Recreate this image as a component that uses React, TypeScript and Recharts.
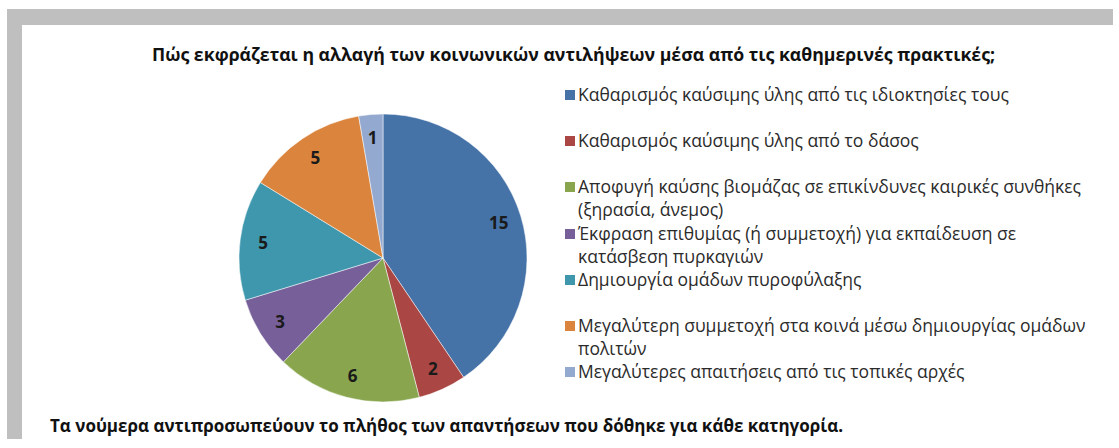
import { PieChart, Pie, Cell, Legend } from 'recharts'

const categories = [
  'Καθαρισμός καύσιμης ύλης από τις ιδιοκτησίες τους',
  'Καθαρισμός καύσιμης ύλης από το δάσος',
  'Αποφυγή καύσης βιομάζας σε επικίνδυνες καιρικές συνθήκες (ξηρασία, άνεμος)',
  'Έκφραση επιθυμίας (ή συμμετοχή) για εκπαίδευση σε κατάσβεση πυρκαγιών',
  'Δημιουργία ομάδων πυροφύλαξης',
  'Μεγαλύτερη συμμετοχή στα κοινά μέσω δημιουργίας ομάδων πολιτών',
  'Μεγαλύτερες απαιτήσεις από τις τοπικές αρχές',
]
const counts = [15, 2, 6, 3, 5, 5, 1]
const colors = ['#4572A7', '#AA4643', '#89A54E', '#775F9A', '#3F97AE', '#DB843D', '#93A9CF']

const title = 'Πώς εκφράζεται η αλλαγή των κοινωνικών αντιλήψεων μέσα από τις καθημερινές πρακτικές;'
const footnote = 'Τα νούμερα αντιπροσωπεύουν το πλήθος των απαντήσεων που δόθηκε για κάθε κατηγορία.'

const data = categories.map((name, i) => ({ name, value: counts[i] }))

const FONT = '"Open Sans", "Noto Sans", sans-serif'
const RAD = Math.PI / 180

function renderLabel(props: any) {
  const { cx, cy, midAngle, outerRadius, value } = props
  const r = outerRadius * 0.84
  const x = cx + r * Math.cos(-midAngle * RAD)
  const y = cy + r * Math.sin(-midAngle * RAD)
  return (
    <text x={x} y={y} textAnchor="middle" dominantBaseline="central"
      fontFamily={FONT} fontWeight={700} fontSize={17} fill="#1a1a1a">
      {value}
    </text>
  )
}

// legend payload comes back sorted, so draw it in category order
function renderLegend() {
  return (
    <div style={{ fontFamily: FONT, fontSize: 17.5, color: '#2b2b2b' }}>
      {categories.map((name, i) => (
        <div key={name} style={{ display: 'flex', alignItems: 'flex-start', height: 46.2, lineHeight: '23px' }}>
          <span style={{ width: 10, height: 10, background: colors[i], marginTop: 7, marginRight: 3, flex: 'none' }} />
          <span style={{ width: 522 }}>{name}</span>
        </div>
      ))}
    </div>
  )
}

export default function App() {
  return (
    <div style={{ position: 'absolute', left: 0, top: 0, width: 1119, height: 448, background: '#fff', overflow: 'hidden' }}>
      <div style={{ position: 'absolute', left: 7, top: 9, width: 1106, height: 16, background: '#BFBFBF' }} />
      <div style={{ position: 'absolute', left: 7, top: 9, width: 15, height: 430, background: '#BFBFBF' }} />
      <div style={{ position: 'absolute', left: 152, top: 42, fontFamily: FONT, fontWeight: 700, fontSize: 17.7, color: '#111', whiteSpace: 'nowrap' }}>
        {title}
      </div>
      <div style={{ position: 'absolute', left: 50, top: 414, fontFamily: FONT, fontWeight: 700, fontSize: 17, color: '#111', whiteSpace: 'nowrap' }}>
        {footnote}
      </div>
      <div style={{ position: 'absolute', left: 0, top: 0 }}>
        <PieChart width={1119} height={448}>
          <Pie
            data={data}
            dataKey="value"
            nameKey="name"
            cx={378}
            cy={253}
            outerRadius={144}
            startAngle={90}
            endAngle={-270}
            stroke="rgba(255,255,255,0.5)"
            strokeWidth={1}
            label={renderLabel}
            labelLine={false}
            isAnimationActive={false}
          >
            {data.map((d, i) => (
              <Cell key={d.name} fill={colors[i]} />
            ))}
          </Pie>
          <Legend
            layout="vertical"
            align="right"
            verticalAlign="top"
            content={renderLegend}
            wrapperStyle={{ left: 565, top: 83, width: 554 }}
          />
        </PieChart>
      </div>
    </div>
  )
}
